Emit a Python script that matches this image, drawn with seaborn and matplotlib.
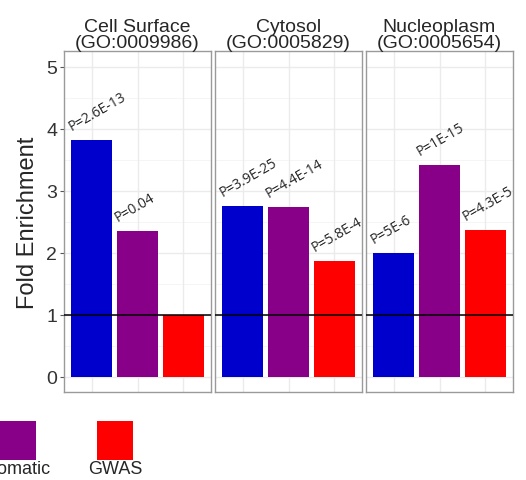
import numpy as np
import pandas as pd
import matplotlib
matplotlib.use('Agg')
import matplotlib.pyplot as plt
from matplotlib.patches import Rectangle
import seaborn as sns

# data
panels = ['Cell Surface\n(GO:0009986)', 'Cytosol\n(GO:0005829)', 'Nucleoplasm\n(GO:0005654)']
groups = ['Germline', 'Somatic', 'GWAS']
fold_cell = [3.81, 2.34, 1.0]
fold_cyto = [2.75, 2.73, 1.86]
fold_nuc = [1.99, 3.41, 2.36]
p_cell = ['P=2.6E-13', 'P=0.04', '']
p_cyto = ['P=3.9E-25', 'P=4.4E-14', 'P=5.8E-4']
p_nuc = ['P=5E-6', 'P=1E-15', 'P=4.3E-5']
colors = ['#0000CC', '#880088', '#FF0000']

rows = []
for panel, vals, ps in zip(panels, [fold_cell, fold_cyto, fold_nuc], [p_cell, p_cyto, p_nuc]):
    for g, v, p in zip(groups, vals, ps):
        rows.append({'panel': panel, 'group': g, 'fe': v, 'p': p})
df = pd.DataFrame(rows)

sns.set_theme(style='white')
plt.rcParams['font.family'] = ['Liberation Sans', 'DejaVu Sans']

W, H = 526, 481
fig = plt.figure(figsize=(W / 100, H / 100), dpi=100)

lefts = [64, 215, 366]
pw, top, bot = 147, 52, 393
pal = dict(zip(groups, colors))

for i, panel in enumerate(panels):
    ax = fig.add_axes([lefts[i] / W, (H - bot) / H, pw / W, (bot - top) / H])
    sub = df[df['panel'] == panel]
    sns.barplot(data=sub, x='group', y='fe', hue='group', palette=pal, order=groups,
                width=0.9, legend=False, ax=ax, saturation=1, edgecolor='none', zorder=3)
    ax.set_xlim(-0.6, 2.6)
    ax.set_ylim(-0.25, 5.25)
    # grid
    for y in np.arange(0, 5.01, 1):
        ax.axhline(y, color='#EBEBEB', lw=1.0, zorder=0)
    for y in np.arange(0.5, 5.01, 1):
        ax.axhline(y, color='#F4F4F4', lw=0.6, zorder=0)
    for x in range(3):
        ax.axvline(x, color='#EBEBEB', lw=1.0, zorder=0)
    ax.axhline(1, color='black', lw=1.1, zorder=4)
    for j, row in enumerate(sub.itertuples()):
        if row.p:
            ax.text(j - 0.43, row.fe + 0.16, row.p, rotation=30, rotation_mode='anchor',
                    ha='left', va='baseline', fontsize=10, family=['Open Sans', 'DejaVu Sans'],
                    zorder=5)
    for s in ax.spines.values():
        s.set_color('#9A9A9A')
        s.set_linewidth(1.0)
        s.set_visible(True)
    ax.set_xticks([])
    ax.set_xlabel('')
    ax.set_title(panel, fontsize=14, pad=2, linespacing=0.92)
    ax.set_yticks(range(6))
    if i == 0:
        ax.tick_params(axis='y', length=3, width=0.8, color='#555555', labelsize=14, pad=2,
                       left=True, labelcolor='#333333')
        ax.set_ylabel('Fold Enrichment', fontsize=17, labelpad=5)
    else:
        ax.tick_params(axis='y', left=False, labelleft=False)
        ax.set_ylabel('')

# legend drawn below, partly cut off at the left edge like the original
key = 36
x0 = -97
for k, (g, c) in enumerate(zip(groups, colors)):
    xl = x0 + k * 97
    fig.patches.append(Rectangle((xl / W, (H - 461) / H), key / W, 39 / H,
                                 transform=fig.transFigure, facecolor=c, edgecolor='none'))
    fig.text((xl + key / 2) / W, (H - 470) / H, g, ha='center', va='center', fontsize=13)

fig.savefig('out.png', dpi=100)
